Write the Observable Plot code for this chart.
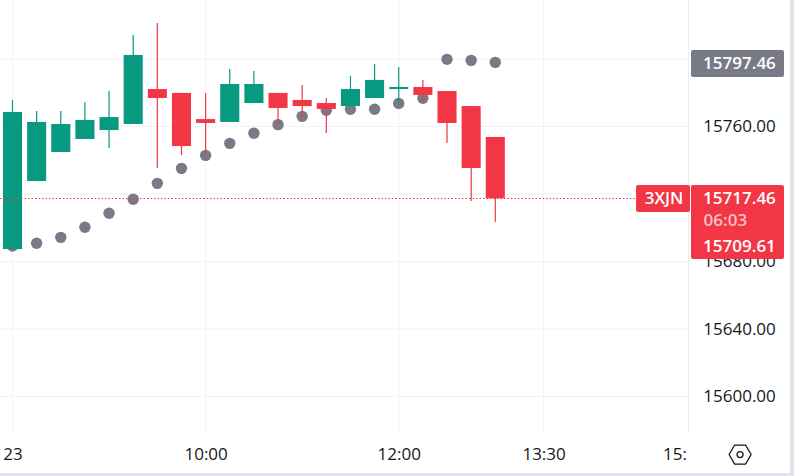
<!DOCTYPE html>
<html><head><meta charset="utf-8">
<script src="https://cdn.jsdelivr.net/npm/d3@7"></script>
<script src="https://cdn.jsdelivr.net/npm/@observablehq/plot@0.6"></script>
<style>
html,body{margin:0;padding:0;background:#e0e3eb;overflow:hidden}
#chart{width:790px;height:473px;background:#fff;overflow:hidden}
svg{display:block}
</style></head><body><div id="chart"></div>
<script>
const bars = d3.range(21);
const opens  = [15687.4,15727.7,15744.9,15752.6,15757.9,15761.5,15782.2,15779.9,15764.4,15762.7,15773.9,15779.9,15775.7,15773.9,15772.1,15776.9,15782.2,15783.4,15781.0,15772.1,15753.8];
const closes = [15768.6,15762.7,15761.5,15763.9,15765.6,15802.4,15776.9,15748.4,15762.1,15785.2,15785.2,15771.0,15772.1,15770.4,15782.2,15787.6,15783.4,15778.7,15762.1,15735.4,15717.46];
const highs  = [15775.7,15769.2,15769.2,15774.5,15781.0,15814.2,15821.3,15779.9,15779.9,15794.1,15792.9,15779.9,15784.6,15776.9,15789.9,15797.0,15795.3,15787.6,15781.0,15772.1,15753.8];
const lows   = [15687.4,15727.7,15744.9,15752.6,15747.3,15761.5,15735.4,15743.1,15743.7,15762.7,15773.9,15761.5,15765.6,15756.1,15772.1,15776.9,15773.9,15774.5,15750.2,15715.9,15703.4];
const sar    = [15689.2,15690.8,15694.3,15700.3,15708.6,15716.9,15726.3,15735.2,15742.9,15750.0,15756.0,15761.1,15766.0,15769.6,15770.2,15770.2,15773.7,15776.7,15799.8,15799.2,15798.0];

const priceTicks = [15800,15760,15720,15680,15640,15600];
const priceLabels = [15760,15680,15640,15600];
const timeTicks = [0,8,16,22,28];
const timeLabels = ["23","10:00","12:00","13:30","15:"];

const GREEN="#089981", RED="#f23645", GRAY="#787b86";
const GRID="#f2f2f5", SEP="#ececf0", TEXT="#131722";
const FONT="Open Sans, sans-serif";

const xDomain=[-0.518,32.208], yDomain=[15834.96,15554.67];
const paneRight=28.0, paneBottom=15578.4;
const colA=28.107, colB=31.96, colC=25.83;   // price-scale column in bar units
const labelX=colB-0.36;
const timeY=15565.9;

const candles = bars.map(i=>({i,o:opens[i],c:closes[i],h:highs[i],l:lows[i]}));
const col = d=>d.c>=d.o?GREEN:RED;
const hw=0.395;
const lastPrice=15717.46, sarLast=15797.46;

const chart = Plot.plot({
  width:790,height:473,margin:0,
  x:{type:"linear",domain:xDomain,range:[0,790],axis:null},
  y:{type:"linear",domain:yDomain,range:[0,473],axis:null},
  style:{background:"transparent",fontFamily:FONT},
  marks:[
    Plot.ruleY(priceTicks,{y:d=>d,x1:xDomain[0],x2:paneRight,stroke:GRID,strokeWidth:1,dy:-0.5}),
    Plot.ruleX(timeTicks.slice(0,4),{x:d=>d,y1:yDomain[0],y2:paneBottom,stroke:GRID,strokeWidth:1,dx:-0.5}),
    Plot.ruleX([paneRight],{x:d=>d,y1:yDomain[0],y2:paneBottom,stroke:SEP,strokeWidth:1,dx:-0.5}),
    Plot.dot(bars,{x:d=>d,y:d=>sar[d],r:5.7,fill:GRAY,stroke:"none",dx:-0.5,dy:-0.5}),
    Plot.ruleX(candles,{x:"i",y1:"h",y2:"l",stroke:col,strokeWidth:1.2,dx:-0.5}),
    Plot.rect(candles,{x1:d=>d.i-hw,x2:d=>d.i+hw,y1:"o",y2:"c",fill:col}),
    Plot.ruleY([lastPrice],{x1:xDomain[0],x2:colC,stroke:RED,strokeWidth:1,strokeDasharray:"1.5 2",dy:-0.3}),
    Plot.text(priceLabels,{x:labelX,y:d=>d,text:d=>d.toFixed(2),textAnchor:"end",fill:TEXT,fontSize:17}),
    Plot.rect([sarLast],{x1:colA,x2:colB,y1:15805.4,y2:15789.4,fill:GRAY,rx:2}),
    Plot.text([sarLast],{x:labelX,y:d=>d,text:d=>d.toFixed(2),textAnchor:"end",fill:"#fff",fontSize:17,fontWeight:600}),
    Plot.rect([0],{x1:colA,x2:colB,y1:15725.4,y2:15681.5,fill:RED,rx:2}),
    Plot.rect([0],{x1:colC,x2:colA-0.04,y1:15725.4,y2:15709.4,fill:RED,rx:2}),
    Plot.text(["3XJN"],{x:(colC+colA)/2,y:lastPrice,text:d=>d,fill:"#fff",fontSize:17,fontWeight:600}),
    Plot.text([lastPrice],{x:labelX,y:d=>d,text:d=>d.toFixed(2),textAnchor:"end",fill:"#fff",fontSize:17,fontWeight:600}),
    Plot.text(["06:03"],{x:colA+0.5,y:15704.6,text:d=>d,textAnchor:"start",fill:"#fbc1c7",fontSize:17,fontWeight:600}),
    Plot.text([15709.61],{x:labelX,y:15689.3,text:d=>d.toFixed(2),textAnchor:"end",fill:"#fff",fontSize:17,fontWeight:600}),
    Plot.text(timeTicks.slice(0,4),{x:d=>d,y:timeY,text:(d,i)=>timeLabels[i],fill:TEXT,fontSize:17}),
    Plot.text([timeTicks[4]],{x:d=>d,y:timeY,text:()=>timeLabels[4],textAnchor:"end",fill:TEXT,fontSize:17,dx:-2}),
    Plot.dot([30.12],{x:d=>d,y:timeY,symbol:"hexagon",r:9.5,rotate:90,fill:"none",stroke:TEXT,strokeWidth:1.3}),
    Plot.dot([30.12],{x:d=>d,y:timeY,r:3,fill:"none",stroke:TEXT,strokeWidth:1.3})
  ]
});
document.getElementById("chart").appendChild(chart);
</script></body></html>
